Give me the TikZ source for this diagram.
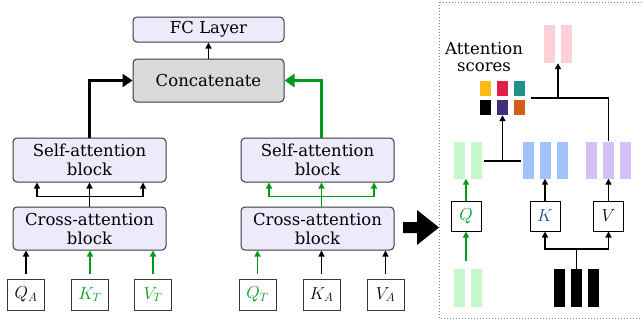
\documentclass[tikz,border=0pt]{standalone}
\usepackage{amsmath}
\usepackage{fontspec}
\setmainfont{DejaVu Serif}
\usetikzlibrary{arrows.meta,calc}

\definecolor{lav}{HTML}{EDEAFC}
\definecolor{catgray}{HTML}{D9D9D9}
\definecolor{edge}{HTML}{3A3A3A}
\definecolor{dgreen}{HTML}{009A1A}
\definecolor{qgreen}{HTML}{C6F8CC}
\definecolor{kblue}{HTML}{A1C2FA}
\definecolor{vpurple}{HTML}{D2C2F8}
\definecolor{opink}{HTML}{FFD0D8}
\definecolor{kletter}{HTML}{1F4A8A}
\definecolor{sYellow}{HTML}{FCBA16}
\definecolor{sRed}{HTML}{E21F4A}
\definecolor{sTeal}{HTML}{21918C}
\definecolor{sPurple}{HTML}{452C7B}
\definecolor{sOrange}{HTML}{D25E1D}

\tikzset{
  block/.style={draw=edge, fill=lav, rounded corners=4pt, minimum width=153pt,
    minimum height=44pt, align=center, inner sep=0pt, line width=1pt,
    font=\fontsize{16.5}{19}\selectfont},
  inbox/.style={draw=edge, fill=white, minimum width=37pt, minimum height=31pt,
    inner sep=0pt, line width=1pt, font=\fontsize{18}{20}\selectfont},
  qkv/.style={draw=black, fill=white, minimum width=30pt, minimum height=30pt,
    inner sep=0pt, line width=1pt, font=\fontsize{18}{20}\selectfont},
  bar/.style={draw=none, minimum width=11pt, minimum height=37pt, inner sep=0pt},
  score/.style={draw=none, minimum width=11pt, minimum height=15pt, inner sep=0pt},
  arr/.style={-{Triangle[length=6pt,width=6pt]}, line width=1.4pt},
  garr/.style={arr, draw=dgreen},
  fatarr/.style={-{Triangle[length=10pt,width=13pt]}, line width=3pt},
}

\begin{document}
\begin{tikzpicture}[x=1pt, y=-1pt]
\useasboundingbox (0,0) rectangle (642,322);

% Top of the network
\node[block, minimum width=151pt, minimum height=25pt] (fc) at (208.5,29.5) {FC Layer};
\node[block, minimum width=151pt, minimum height=43pt, fill=catgray] (concat) at (208.5,80.5) {Concatenate};
\draw[arr] (concat) -- (fc);

% Left branch
\node[block] (sa1) at (89.5,160) {Self-attention\\block};
\node[block, minimum height=43pt] (ca1) at (89.5,228.5) {Cross-attention\\block};
\node[inbox] (qa) at (26,294.5) {$Q_A$};
\node[inbox, text=dgreen] (kt) at (90,294.5) {$K_T$};
\node[inbox, text=dgreen] (vt) at (153,294.5) {$V_T$};

% Right branch
\node[block] (sa2) at (317.5,160) {Self-attention\\block};
\node[block, minimum height=43pt] (ca2) at (317.5,228.5) {Cross-attention\\block};
\node[inbox, text=dgreen] (qt) at (257.5,294.5) {$Q_T$};
\node[inbox] (ka) at (321.5,294.5) {$K_A$};
\node[inbox] (va) at (385.5,294.5) {$V_A$};

% Inputs into the cross-attention blocks
\draw[arr, shorten <=5pt] (qa.north) -- (qa.north |- ca1.south);
\draw[garr, shorten <=5pt] (kt.north) -- (kt.north |- ca1.south);
\draw[garr, shorten <=5pt] (vt.north) -- (vt.north |- ca1.south);
\draw[garr, shorten <=5pt] (qt.north) -- (qt.north |- ca2.south);
\draw[arr, shorten <=5pt] (ka.north) -- (ka.north |- ca2.south);
\draw[arr, shorten <=5pt] (va.north) -- (va.north |- ca2.south);

% Cross-attention to self-attention
\draw[line width=1.4pt] (ca1.north) -- ++(0,-10) coordinate (fork1);
\draw[arr] (fork1) -| ([xshift=-52.5pt]sa1.south);
\draw[arr] (fork1) -- (sa1.south);
\draw[arr] (fork1) -| ([xshift=53.5pt]sa1.south);
\draw[line width=1.4pt, dgreen] (ca2.north -| ka) -- ++(0,-10) coordinate (fork2);
\draw[garr] (fork2) -| ([xshift=-48.5pt]sa2.south);
\draw[garr] (fork2) -- (fork2 |- sa2.south);
\draw[garr] (fork2) -| ([xshift=56.5pt]sa2.south);

% Into the concatenation
\draw[fatarr] (sa1.north) |- (concat.west);
\draw[fatarr, dgreen] (sa2.north -| ka) |- (concat.east);

% Big arrow to the detail panel
\fill (403,222) -- (417,222) -- (417,210) -- (439,227.5) -- (417,245) -- (417,233) -- (403,233) -- cycle;

% Detail panel
\draw[gray, dotted, line width=1pt] (439,2) rectangle (646,318);

\node[align=center, font=\fontsize{16.5}{17}\selectfont] (attn) at (484,57) {Attention\\scores};
\node[score, fill=sYellow] (s1) at (485.5,88.5) {};
\node[score, fill=sRed] (s2) at (502.5,88.5) {};
\node[score, fill=sTeal] (s3) at (519.5,88.5) {};
\node[score, fill=black] (s4) at (485.5,107.5) {};
\node[score, fill=sPurple] (s5) at (502.5,107.5) {};
\node[score, fill=sOrange] (s6) at (519.5,107.5) {};

\node[bar, fill=opink, minimum height=38pt] (o1) at (549.5,44) {};
\node[bar, fill=opink, minimum height=38pt] (o2) at (566.5,44) {};
\coordinate (osouth) at ($(o1.south)!0.5!(o2.south)$);

\node[bar, fill=qgreen] (g1) at (459.5,160) {};
\node[bar, fill=qgreen] (g2) at (476.5,160) {};
\node[bar, fill=kblue] (b1) at (528.5,160) {};
\node[bar, fill=kblue] (b2) at (545.5,160) {};
\node[bar, fill=kblue] (b3) at (562.5,160) {};
\node[bar, fill=vpurple] (p1) at (591.5,160) {};
\node[bar, fill=vpurple] (p2) at (608.5,160) {};
\node[bar, fill=vpurple] (p3) at (625.5,160) {};

\node[qkv, text=dgreen] (q) at (466,216) {$Q$};
\node[qkv, text=kletter] (k) at (545,216) {$K$};
\node[qkv] (v) at (608.5,216) {$V$};

\node[bar, fill=qgreen, minimum height=38pt] (l1) at (459.5,288) {};
\node[bar, fill=qgreen, minimum height=38pt] (l2) at (476.5,288) {};
\node[bar, fill=black, minimum height=38pt] (x1) at (559.5,288) {};
\node[bar, fill=black, minimum height=38pt] (x2) at (576.5,288) {};
\node[bar, fill=black, minimum height=38pt] (x3) at (593.5,288) {};

% Projections
\draw[garr, shorten <=8pt] (q |- l1.north) -- (q.south);
\draw[garr] (q.north) -- (q |- g1.south);
\draw[line width=1.4pt] (x2.north) -- ++(0,-20) coordinate (kvfork);
\draw[arr] (kvfork) -| (k.south);
\draw[arr] (kvfork) -| (v.south);
\draw[arr] (k.north) -- (k |- b2.south);
\draw[arr] (v.north) -- (v |- p2.south);

% Scores and weighted sum
\draw[line width=1.4pt, shorten <=2pt, shorten >=2pt] (g2.east |- 0,161) -- (b1.west |- 0,161);
\draw[arr] (502.5,161) -- (s5.south);
\coordinate (mix) at ($(s3.south east)!0.5!(s6.north east)+(6,0)$);
\draw[line width=1.4pt] (mix) -| (p2.north);
\draw[arr] (osouth |- mix) -- (osouth);

\end{tikzpicture}
\end{document}
